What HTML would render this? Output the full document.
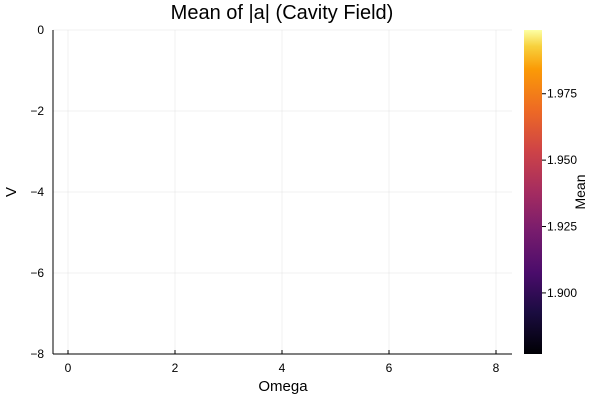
<!DOCTYPE html>
<html><head><meta charset="utf-8"><style>
body{margin:0;background:#fff;font-family:"Liberation Sans","DejaVu Sans",sans-serif;}
</style></head><body>
<svg width="600" height="400" xmlns="http://www.w3.org/2000/svg">
<defs><linearGradient id="inferno" x1="0" y1="1" x2="0" y2="0">
<stop offset="0" stop-color="#000004"/><stop offset="0.13" stop-color="#1b0c41"/>
<stop offset="0.25" stop-color="#4a0c6b"/><stop offset="0.38" stop-color="#781c6d"/>
<stop offset="0.5" stop-color="#a52c60"/><stop offset="0.63" stop-color="#cf4446"/>
<stop offset="0.75" stop-color="#ed6925"/><stop offset="0.88" stop-color="#fb9b06"/>
<stop offset="0.95" stop-color="#f7d13d"/><stop offset="1" stop-color="#fcffa4"/>
</linearGradient></defs>
<text x="282" y="19" text-anchor="middle" font-size="20" fill="#000">Mean of |a| (Cavity Field)</text>
<g id="grid"></g>
<g id="axes"></g>
<text x="283" y="391" text-anchor="middle" font-size="15">Omega</text>
<text transform="translate(16,192) rotate(-90)" text-anchor="middle" font-size="15">V</text>
<rect x="524" y="30" width="18" height="324" fill="url(#inferno)"/>
<g id="cbticks"></g>
<text transform="translate(585,192) rotate(-90)" text-anchor="middle" font-size="14">Mean</text>
</svg>
<script>
const xTicks=[0,2,4,6,8];
const yTicks=[0,-2,-4,-6,-8];
const cbTicks=[1.900,1.925,1.950,1.975];
const cbMin=1.877, cbMax=1.999;
const ns="http://www.w3.org/2000/svg";
const L=53,R=512,T=30,B=354;
const xs=v=>68+v*53.5;
const ys=v=>T+(0-v)/8*(B-T);
const cs=v=>B-(v-cbMin)/(cbMax-cbMin)*(B-T);
function mk(tag,a,p,txt){const e=document.createElementNS(ns,tag);for(const k in a)e.setAttribute(k,a[k]);if(txt!==undefined)e.textContent=txt;p.appendChild(e);return e;}
const g=document.getElementById('grid'),ax=document.getElementById('axes'),cb=document.getElementById('cbticks');
xTicks.forEach(v=>{
 const l=mk('line',{x1:xs(v),x2:xs(v),y1:T,y2:B,stroke:'#000','stroke-opacity':0.1,'stroke-width':0.5},g);
 
 const t=mk('line',{x1:xs(v),x2:xs(v),y1:B,y2:B-4,stroke:'#000','stroke-width':1},ax);
 
 const s=mk('text',{x:xs(v),y:B+18,'text-anchor':'middle','font-size':12},ax,String(v));
 
});
yTicks.forEach(v=>{
 const l=mk('line',{x1:L,x2:R,y1:ys(v),y2:ys(v),stroke:'#000','stroke-opacity':0.1,'stroke-width':0.5},g);
 
 const s=mk('text',{x:L-9,y:ys(v)+4,'text-anchor':'end','font-size':12},ax,v===0?'0':'\u2212'+Math.abs(v));
 
});
const xa=mk('line',{x1:L,x2:R,y1:B,y2:B,stroke:'#000','stroke-width':1},ax);

const ya=mk('line',{x1:L,x2:L,y1:T,y2:B,stroke:'#000','stroke-width':1},ax);

cbTicks.forEach(v=>{
 const t=mk('line',{x1:542,x2:546,y1:cs(v),y2:cs(v),stroke:'#000','stroke-width':1},cb);
 
 const s=mk('text',{x:547,y:cs(v)+4,'font-size':12},cb,v.toFixed(3));
 
});
</script>
</body></html>
